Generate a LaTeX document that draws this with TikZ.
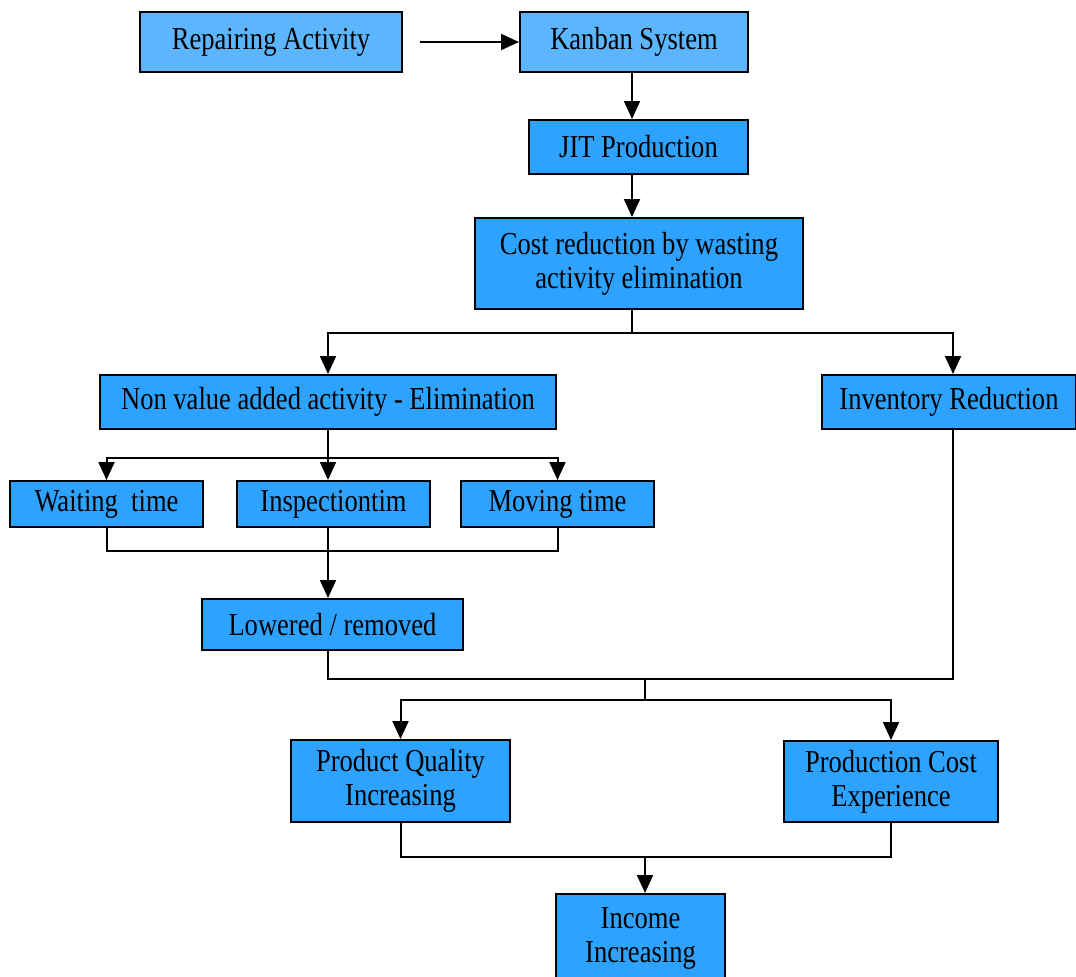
\documentclass[tikz,border=0pt]{standalone}
\usepackage{fontspec}
\setmainfont[FakeStretch=0.83]{Liberation Serif}
\usetikzlibrary{arrows.meta,calc}
\definecolor{lblue}{RGB}{92,182,255}
\definecolor{dblue}{RGB}{45,163,255}
\tikzset{
  fnode/.style = {align=center, inner sep=0pt, text centered, draw=black, line width=1pt,
    font=\fontsize{16}{17}\selectfont},
  fn_l/.style = {fnode, fill=lblue},
  fn_d/.style = {fnode, fill=dblue},
  arr/.style = {line width=1pt, -{Triangle[length=9pt,width=8pt]}},
  ln/.style = {line width=1pt}
}
\begin{document}
\begin{tikzpicture}[x=0.5pt,y=-0.5pt]
\useasboundingbox (0,0) rectangle (1076,976);
% boxes
\node [fn_l, minimum width=131pt, minimum height=30pt] (rep) at (271,42) {Repairing Activity};
\node [fn_l, minimum width=114pt, minimum height=30pt] (kan) at (634,42) {Kanban System};
\node [fn_d, minimum width=109.5pt, minimum height=27pt] (jit) at (638.5,147) {JIT Production};
\node [fn_d, minimum width=164pt, minimum height=45.5pt] (cost) at (639,263.5) {Cost reduction by wasting\\activity elimination};
\node [fn_d, minimum width=228pt, minimum height=27pt] (nva) at (328,402) {Non value added activity - Elimination};
\node [fn_d, minimum width=127pt, minimum height=27pt] (inv) at (949,402) {Inventory Reduction};
\node [fn_d, minimum width=96.5pt, minimum height=23pt] (wait) at (106.5,504) {Waiting\ \ time};
\node [fn_d, minimum width=96.5pt, minimum height=23pt] (insp) at (333.5,504) {Inspectiontim};
\node [fn_d, minimum width=96.5pt, minimum height=23pt] (move) at (557.5,504) {Moving time};
\node [fn_d, minimum width=130.5pt, minimum height=25.5pt] (low) at (332.5,624.5) {Lowered / removed};
\node [fn_d, minimum width=109.5pt, minimum height=41pt] (pq) at (400.5,781) {Product Quality\\Increasing};
\node [fn_d, minimum width=107pt, minimum height=40.5pt] (pc) at (891,781.5) {Production Cost\\Experience};
\node [fn_d, minimum width=84.5pt, minimum height=44pt] (inc) at (640.5,938) {Income\\Increasing};
% junctions
\coordinate (r1) at (420,42);
\coordinate (ax) at (632,0);
\coordinate (ix) at (953,0);
\coordinate (j1) at (632,333);
\coordinate (j2) at (328,458);
\coordinate (j3) at (328,551);
\coordinate (j4) at (645,679);
\coordinate (j5) at (645,700);
\coordinate (j6) at (645,857);
% connectors
\draw [arr] (r1) -- (kan.west);
\draw [arr] (kan.south -| ax) -- (jit.north -| ax);
\draw [arr] (jit.south -| ax) -- (cost.north -| ax);
\draw [ln] (cost.south -| ax) -- (j1);
\draw [arr] (j1) -| (nva.north);
\draw [arr] (j1) -| (inv.north -| ix);
\draw [ln] (nva.south) -- (j2);
\draw [arr] (j2) -| (wait.north);
\draw [arr] (j2) -- (insp.north -| j2);
\draw [arr] (j2) -| (move.north);
\draw [ln] (wait.south) |- (j3) -| (move.south);
\draw [arr] (insp.south -| j3) -- (low.north -| j3);
\draw [ln] (low.south -| j3) |- (j4) -| (inv.south -| ix);
\draw [ln] (j4) -- (j5);
\draw [arr] (j5) -| (pq.north);
\draw [arr] (j5) -| (pc.north);
\draw [ln] (pq.south) |- (j6) -| (pc.south);
\draw [arr] (j6) -- (inc.north -| j6);
\end{tikzpicture}
\end{document}
